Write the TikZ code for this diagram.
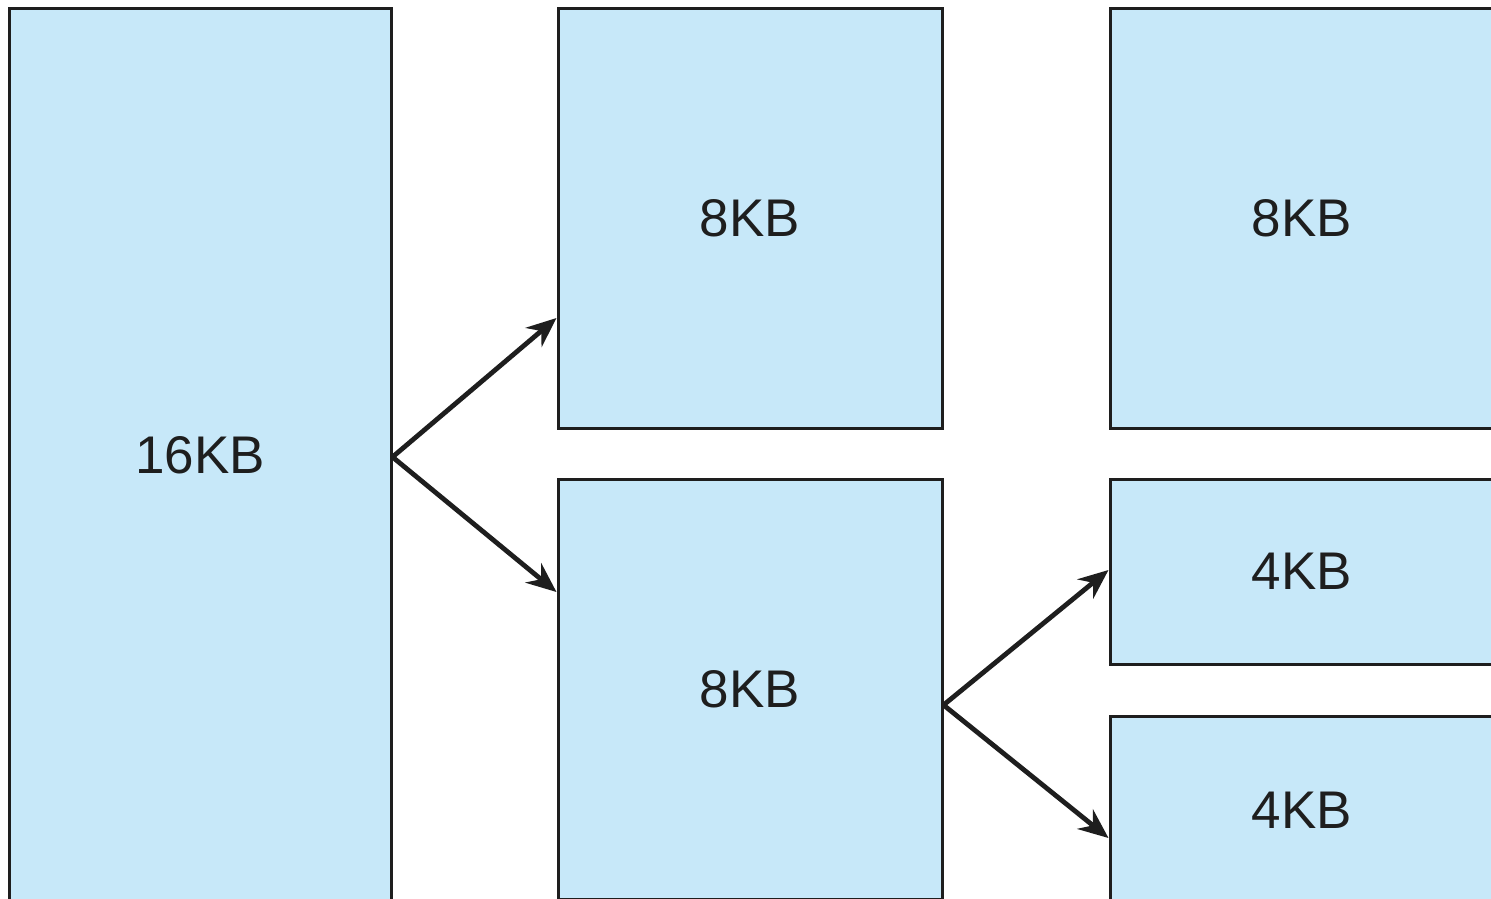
\documentclass[tikz,border=0pt]{standalone}
\usepackage{fontspec}
\setmainfont{Liberation Sans}
\usetikzlibrary{arrows.meta}
\definecolor{boxfill}{HTML}{C7E8F9}
\definecolor{edge}{HTML}{1E1E1E}
\begin{document}
\begin{tikzpicture}[x=1pt,y=-1pt,
  blk/.style={draw=edge,fill=boxfill,line width=3pt,inner sep=0pt,
    font=\fontsize{53}{60}\selectfont,text=edge},
  arr/.style={draw=edge,line width=4.8pt,-{Stealth[length=30pt,width=25pt,inset=10pt]}}]
\useasboundingbox (0,0) rectangle (1491,898);
\clip (0,0) rectangle (1491,898);
\fill[white] (0,0) rectangle (1491,898);
\node[blk,minimum width=382pt,minimum height=894pt] (a) at (200,455) {16KB};
\node[blk,minimum width=384pt,minimum height=420pt] (b) at (750,218) {8KB};
\node[blk,minimum width=384pt,minimum height=420pt] (c) at (750,689) {8KB};
\node[blk,minimum width=384pt,minimum height=420pt] (d) at (1302,218) {8KB};
\node[blk,minimum width=384pt,minimum height=185pt] (e) at (1302,571.5) {4KB};
\node[blk,minimum width=384pt,minimum height=188pt] (f) at (1302,810) {4KB};
\coordinate (ao) at (a.east |- 0,457);
\coordinate (co) at (c.east |- 0,705);
\draw[arr] (ao) -- (b.west |- 0,318);
\draw[arr] (ao) -- (c.west |- 0,592);
\draw[arr] (co) -- (e.west |- 0,570);
\draw[arr] (co) -- (f.west |- 0,838);
\end{tikzpicture}
\end{document}
